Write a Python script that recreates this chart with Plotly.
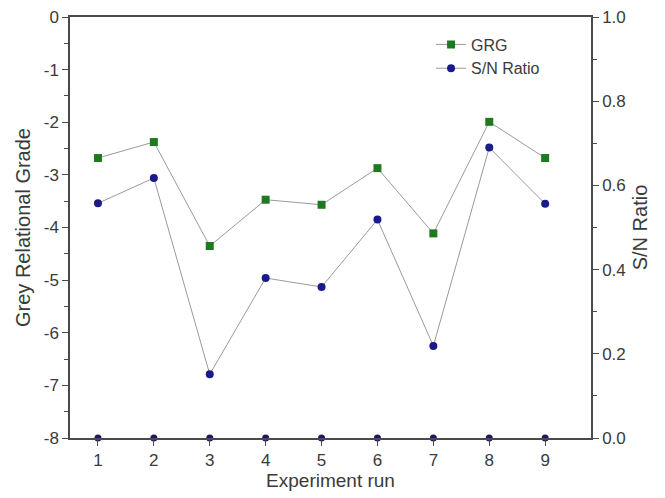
import plotly.graph_objects as go

runs = [1, 2, 3, 4, 5, 6, 7, 8, 9]
grg = [0.665, 0.703, 0.456, 0.566, 0.554, 0.641, 0.486, 0.751, 0.665]
sn_ratio = [-3.54, -3.06, -6.79, -4.96, -5.13, -3.85, -6.25, -2.48, -3.55]
baseline = [-8, -8, -8, -8, -8, -8, -8, -8, -8]
left_ticks = [0, -1, -2, -3, -4, -5, -6, -7, -8]
left_labels = ["0", "-1", "-2", "-3", "-4", "-5", "-6", "-7", "-8"]
right_ticks = [0.0, 0.2, 0.4, 0.6, 0.8, 1.0]
right_labels = ["0.0", "0.2", "0.4", "0.6", "0.8", "1.0"]

FONT = "Liberation Sans, Arial, sans-serif"
AX = "#4a4a4a"
TXT = "#3a3a3a"

fig = go.Figure()
fig.add_trace(go.Scatter(
    x=runs, y=grg, name="GRG", yaxis="y2", mode="lines+markers",
    line=dict(color="#9a9a9a", width=1),
    marker=dict(symbol="square", size=8, color="#1f7a1f"),
))
fig.add_trace(go.Scatter(
    x=runs, y=sn_ratio, name="S/N Ratio", mode="lines+markers",
    line=dict(color="#9a9a9a", width=1),
    marker=dict(symbol="circle", size=8, color="#1a1a8c"),
))
fig.add_trace(go.Scatter(
    x=runs, y=baseline, mode="markers", showlegend=False, cliponaxis=False,
    marker=dict(symbol="circle", size=7, color="#1a1a5c"),
))

fig.update_layout(
    width=657, height=490,
    margin=dict(l=62, r=74, t=9, b=60),
    paper_bgcolor="white", plot_bgcolor="white",
    font=dict(family=FONT, size=17, color=TXT),
    xaxis=dict(
        range=[0.5, 9.82], tickmode="array", tickvals=runs,
        ticks="outside", ticklen=6, tickcolor=AX, tickfont=dict(size=17),
        showgrid=False, zeroline=False,
        showline=True, linecolor=AX, linewidth=1.5, mirror=True,
        title=dict(text="Experiment run", font=dict(size=19), standoff=5),
        automargin=False, ticklabeloverflow="allow",
    ),
    yaxis=dict(
        range=[-8, 0], tickmode="array", tickvals=left_ticks, ticktext=left_labels,
        ticks="outside", ticklen=6, tickcolor=AX, tickfont=dict(size=17),
        minor=dict(dtick=0.5, ticks="outside", ticklen=4, tickcolor=AX),
        showgrid=False, zeroline=False, showline=True, linecolor=AX, linewidth=1.5,
        title=dict(text="Grey Relational Grade", font=dict(size=20), standoff=8),
        automargin=False, ticklabeloverflow="allow",
    ),
    yaxis2=dict(
        range=[0, 1], tickmode="array", tickvals=right_ticks, ticktext=right_labels,
        overlaying="y", side="right",
        ticks="outside", ticklen=6, tickcolor=AX, tickfont=dict(size=17),
        minor=dict(dtick=0.1, ticks="outside", ticklen=4, tickcolor=AX),
        showgrid=False, zeroline=False, showline=True, linecolor=AX, linewidth=1.5,
        title=dict(text="S/N Ratio", font=dict(size=20), standoff=8),
        automargin=False, ticklabeloverflow="allow",
    ),
    legend=dict(
        x=0.693, y=0.975, xanchor="left", yanchor="top",
        bgcolor="rgba(0,0,0,0)", font=dict(size=16, color=TXT),
        tracegroupgap=0, itemwidth=30,
    ),
    showlegend=True,
)

fig.write_html("out.html")
